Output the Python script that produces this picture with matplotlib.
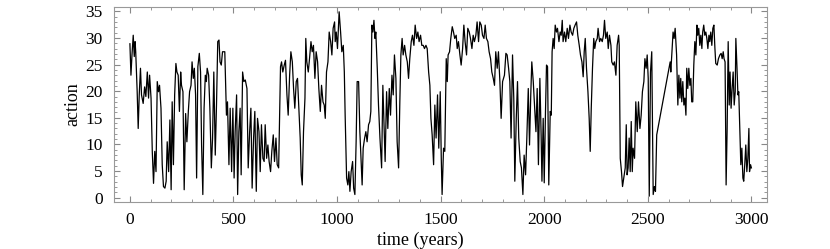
import matplotlib
matplotlib.use("Agg")
import matplotlib.pyplot as plt
from matplotlib.ticker import MultipleLocator

# --- data (year, action) ---
years = [
    0, 5, 10, 16, 21, 25, 28, 35, 40, 45, 51, 56, 64, 71, 77, 84, 90, 95, 102, 108, 114,
    120, 126, 132, 138, 143, 150, 156, 162, 169, 175, 180, 187, 193, 199, 204, 210, 216,
    222, 227, 233, 239, 245, 249, 256, 262, 269, 275, 282, 288, 295, 300, 306, 311, 317,
    322, 328, 335, 341, 346, 352, 358, 364, 369, 373, 380, 386, 393, 399, 405, 412, 418,
    424, 430, 435, 441, 447, 454,
    458, 466, 471, 478, 484, 491, 497, 503, 508, 515, 520, 526, 532, 537, 544, 550, 557,
    565, 571, 578, 584, 590, 597, 603, 610, 616, 623, 629, 635, 642, 648, 653, 660, 666,
    672, 679, 685, 692, 698, 705, 711, 718, 727, 732, 738, 745, 751, 758, 764, 771, 777,
    784, 790, 796, 803, 809, 816, 822, 827, 832, 838, 845, 849, 854, 861, 867, 874, 880,
    886, 893, 899, 906, 912, 919, 925, 932, 938, 943, 949, 956, 962, 969, 975, 981, 988,
    991, 996, 1002, 1010, 1017, 1023, 1030, 1035, 1039, 1046, 1052, 1057, 1062, 1068,
    1075, 1080, 1086, 1092, 1097, 1104, 1110, 1121, 1126, 1133, 1139, 1145, 1152, 1158,
    1163, 1168, 1173, 1178, 1183, 1187, 1194, 1200, 1207, 1215, 1221, 1228, 1232, 1239,
    1245, 1252, 1258, 1265, 1271, 1277, 1284, 1290, 1297, 1303, 1308, 1314, 1319, 1326,
    1332, 1339, 1345, 1351, 1358, 1364, 1371, 1377, 1384, 1390, 1396, 1403, 1409, 1416,
    1422, 1429, 1435, 1442, 1448, 1453, 1459, 1466,
    1472, 1478, 1485, 1491, 1498, 1503, 1507, 1514, 1520, 1527, 1532, 1536, 1543, 1549,
    1556, 1562, 1568, 1575, 1580, 1586, 1593, 1599, 1606, 1612, 1618, 1625, 1631, 1638,
    1644, 1651, 1657, 1663, 1670, 1676, 1683, 1689, 1696, 1702, 1709, 1715, 1721, 1728,
    1734, 1741, 1747, 1754, 1760, 1766, 1773, 1779, 1786, 1792, 1799, 1808, 1815, 1821,
    1828, 1834, 1840, 1847, 1853, 1858, 1865, 1871, 1877, 1884, 1890, 1897, 1903, 1910,
    1916, 1923, 1929, 1935, 1940, 1947, 1953, 1960, 1966, 1972, 1979, 1985,
    1989, 1995, 2000, 2006, 2011, 2016, 2022, 2029, 2034, 2038, 2043, 2048, 2053, 2059,
    2064, 2071, 2077, 2082, 2087, 2091, 2098, 2104, 2111, 2117, 2124, 2130, 2137, 2143,
    2149, 2156, 2162, 2169, 2175, 2182, 2188, 2193, 2198, 2204, 2211, 2217, 2222, 2227,
    2233, 2239, 2244, 2249, 2256, 2260, 2267, 2273, 2280, 2286, 2291, 2297, 2304, 2309,
    2315, 2322, 2326, 2333, 2339, 2346, 2352, 2359, 2362, 2367, 2373, 2378, 2384, 2391,
    2396, 2400, 2405, 2410, 2415, 2420, 2425, 2429, 2436, 2442, 2449, 2455, 2462, 2468,
    2474, 2481,
    2486, 2492, 2497, 2502, 2507, 2513, 2519, 2526, 2532, 2537, 2543, 2608, 2611, 2618,
    2622, 2627, 2632, 2639, 2645, 2650, 2655, 2659, 2664, 2669, 2674, 2679, 2684, 2688,
    2693, 2698, 2703, 2708, 2712, 2717, 2722, 2727, 2732, 2737, 2741, 2746, 2751, 2756,
    2761, 2765, 2770, 2775, 2780, 2785, 2790, 2795, 2799, 2804, 2809, 2814, 2819, 2824,
    2828, 2835, 2841, 2848, 2854, 2859, 2864, 2868, 2873, 2878, 2883, 2888, 2893, 2897,
    2902, 2907, 2912, 2917, 2922, 2925, 2930, 2935, 2939, 2944, 2949, 2954, 2959, 2963,
    2968, 2973, 2978, 2983, 2988, 2991, 2996, 3000,
]
action = [
    28.9, 23.0, 26.8, 30.5, 26.5, 29.3, 27.4, 20.0, 13.0, 19.3, 24.3, 19.3, 17.7, 20.8,
    19.0, 23.6, 18.7, 23.0, 18.7, 8.7, 2.7, 8.7, 4.9, 21.8, 19.9, 21.1, 16.8, 6.2, 2.1,
    1.8, 3.1, 10.5, 4.9, 14.6, 1.5, 18.0, 6.2, 19.3, 25.2, 23.6, 23.0, 16.2, 23.6, 21.1,
    19.9, 1.5, 15.8, 10.5, 16.2, 19.9, 21.1, 25.5, 22.4, 24.3, 19.3, 3.7, 24.6, 27.1,
    23.6, 9.9, 0.6, 16.8, 23.0, 21.8, 24.3, 23.0, 16.8, 5.6, 11.2, 23.6, 8.0, 17.4,
    29.3, 29.6, 25.5, 24.9, 27.4, 27.4,
    27.4, 15.5, 18.0, 6.2, 16.8, 4.9, 16.8, 3.7, 12.4, 19.3, 0.6, 12.4, 16.8, 4.3, 23.6,
    21.8, 22.1, 20.5, 5.6, 12.4, 16.8, 1.8, 11.2, 16.2, 1.2, 14.9, 12.4, 4.9, 13.7, 7.4,
    6.8, 13.7, 7.4, 9.9, 6.8, 4.9, 8.7, 11.8, 6.8, 11.2, 6.2, 5.6, 24.6, 25.5, 23.6,
    24.9, 25.8, 19.3, 15.5, 23.0, 27.4, 25.5, 20.5, 16.8, 21.8, 22.4, 16.2, 11.2, 4.3,
    2.4, 12.4, 18.7, 29.9, 25.5, 23.6, 26.1, 29.3, 27.4, 28.6, 22.4, 27.4, 25.5, 20.5,
    16.2, 21.1, 18.0, 17.4, 14.9, 23.6, 25.5, 31.1, 29.3, 26.8, 31.8, 33.0,
    29.3, 31.1, 28.0, 34.9, 31.1, 27.4, 28.6, 23.6, 15.5, 3.7, 2.4, 4.9, 1.2, 4.9, 6.8,
    1.8, 0.6, 10.5, 21.8, 21.8, 12.4, 2.4, 9.3, 11.2, 12.4, 10.5, 13.7, 14.3, 16.2,
    32.4, 31.1, 33.3, 29.9, 31.1, 24.3, 17.4, 11.2, 5.6, 21.1, 12.4, 6.8, 19.9, 13.0,
    20.5, 15.5, 23.0, 19.3, 26.8, 22.4, 10.5, 5.6, 18.0, 26.8, 29.9, 26.8, 28.6, 26.8,
    25.5, 22.4, 26.1, 29.3, 30.5, 28.6, 32.4, 29.9, 31.1, 29.3, 30.5, 28.6, 28.6, 28.0,
    28.6, 28.0, 23.6, 21.1, 14.9, 11.8, 6.2,
    17.4, 11.2, 19.3, 9.3, 19.9, 7.4, 0.6, 9.3, 8.7, 26.1, 21.8, 26.8, 27.4, 29.9, 32.1,
    31.1, 29.9, 30.5, 28.0, 29.3, 26.8, 24.9, 28.0, 32.4, 29.3, 26.8, 31.8, 31.1, 29.9,
    28.0, 30.5, 29.3, 30.5, 33.0, 29.3, 33.0, 32.4, 30.5, 29.9, 32.4, 29.9, 29.3, 27.4,
    26.1, 23.6, 22.4, 21.1, 27.4, 24.3, 27.4, 21.8, 14.9, 21.8, 23.0, 27.1, 26.8, 24.3,
    21.8, 11.2, 26.8, 18.7, 3.1, 14.9, 21.8, 11.2, 6.8, 5.6, 0.6, 8.0, 4.3, 11.2, 20.5,
    9.9, 19.3, 25.5, 21.8, 17.4, 12.4, 20.5, 6.2, 22.4, 11.8,
    3.1, 14.9, 2.8, 16.0, 24.9, 24.6, 2.4, 16.2, 15.5, 27.4, 29.9, 28.0, 32.4, 31.1,
    31.8, 29.3, 31.1, 30.5, 33.3, 29.3, 31.1, 29.3, 31.8, 29.9, 32.4, 31.1, 30.5, 31.8,
    32.4, 33.0, 30.5, 28.6, 26.8, 25.5, 22.7, 27.4, 29.9, 24.3, 19.9, 14.9, 8.7, 16.8,
    24.3, 29.9, 28.0, 29.3, 29.9, 31.8, 29.3, 29.9, 29.3, 30.5, 33.3, 29.9, 31.1, 28.0,
    30.5, 28.6, 25.5, 24.9, 25.5, 23.0, 28.6, 30.5, 28.6, 7.4, 4.9, 2.1, 3.7, 5.6,
    13.7, 4.3, 5.6, 11.2, 4.9, 14.3, 4.9, 9.3, 7.4, 18.0, 12.4, 18.0, 13.0, 15.5,
    19.9, 21.8,
    26.1, 24.3, 26.8, 22.4, 0.3, 23.6, 27.4, 0.6, 2.1, 1.2, 11.8, 25.5, 23.6, 28.6,
    31.1, 29.9, 31.8, 26.8, 17.4, 23.0, 18.7, 22.4, 18.0, 21.8, 17.4, 18.7, 15.5, 24.3,
    20.5, 24.3, 21.1, 22.4, 18.0, 18.0, 24.9, 29.3, 26.8, 32.4, 30.5, 31.8, 28.6, 30.5,
    28.0, 31.1, 32.4, 30.5, 31.1, 29.9, 28.0, 30.5, 29.3, 31.1, 28.6, 31.8, 32.4, 28.0,
    25.2, 24.9, 26.1, 26.8, 27.1, 26.1, 27.4, 26.1, 25.5, 2.4, 13.0, 29.3, 17.4, 23.6,
    16.8, 20.5, 23.6, 17.4, 19.9, 29.9, 24.9, 19.3, 19.9, 13.0, 6.2, 9.3, 3.7, 3.1,
    6.2, 9.9, 4.9, 7.4, 13.0, 4.9, 6.2, 5.6,
]

x_major = [0, 500, 1000, 1500, 2000, 2500, 3000]
y_major = [0, 5, 10, 15, 20, 25, 30, 35]

plt.rcParams['font.family'] = ['Liberation Serif', 'DejaVu Serif']

fig = plt.figure(figsize=(8.3, 2.49), dpi=100)
ax = fig.add_axes([0.1373, 0.1888, 0.7867, 0.7831])

ax.plot(years, action, color='black', linewidth=0.9)

ax.set_xlim(-77, 3075)
ax.set_ylim(-0.8, 35.8)
ax.set_xticks(x_major)
ax.set_yticks(y_major)
ax.xaxis.set_minor_locator(MultipleLocator(100))
ax.yaxis.set_minor_locator(MultipleLocator(1))

ax.tick_params(which='both', direction='in', top=True, right=True,
               colors='#888888', labelcolor='black', labelsize=12.5)
ax.tick_params(which='major', length=4, width=0.8)
ax.tick_params(which='minor', length=2, width=0.6)
ax.tick_params(axis='x', which='major', pad=7)
ax.tick_params(axis='y', which='major', pad=8)
for s in ax.spines.values():
    s.set_color('#999999')
    s.set_linewidth(0.8)

ax.set_xlabel("time (years)", fontsize=13)
ax.set_ylabel("action", fontsize=13)
ax.xaxis.set_label_coords(0.469, -0.15)
ax.yaxis.set_label_coords(-0.05, 0.5)

fig.savefig("out.png", dpi=100)
